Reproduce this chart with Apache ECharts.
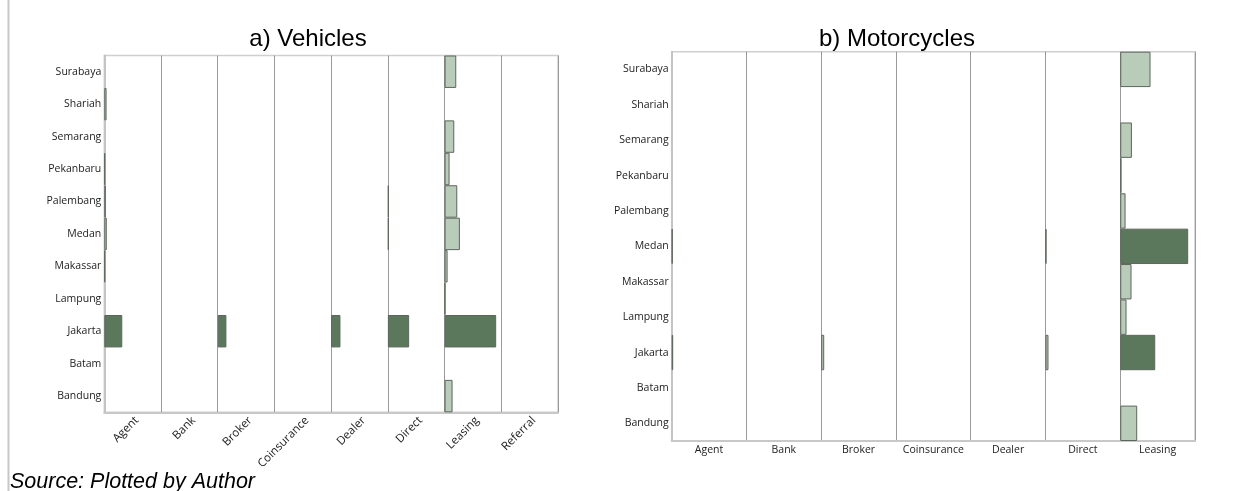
<!DOCTYPE html>
<html>
<head>
<meta charset="utf-8">
<script src="https://cdn.jsdelivr.net/npm/echarts@6/dist/echarts.min.js"></script>
<style>
  html, body { margin: 0; padding: 0; background: #ffffff; }
  #chart { width: 1256px; height: 491px; }
</style>
</head>
<body>
<div id="chart"></div>
<script>
// Cities, listed bottom-to-top on the category axis
const cities = ['Bandung', 'Batam', 'Jakarta', 'Lampung', 'Makassar', 'Medan',
                'Palembang', 'Pekanbaru', 'Semarang', 'Shariah', 'Surabaya'];

// Distribution channels
const vehicleChannels = ['Agent', 'Bank', 'Broker', 'Coinsurance', 'Dealer', 'Direct', 'Leasing', 'Referral'];
const motorcycleChannels = ['Agent', 'Bank', 'Broker', 'Coinsurance', 'Dealer', 'Direct', 'Leasing'];

// a) Vehicles: value per city (same order as cities), per channel
const vehicleAgent       = [0, 0, 31.7, 0, 1.5, 4.4, 2.6, 1.5, 0, 4.0, 0];
const vehicleBank        = [0, 0, 0, 0, 0, 0, 0, 0, 0, 0, 0];
const vehicleBroker      = [0, 0, 15.3, 0, 0, 0, 0, 0, 0, 0, 0];
const vehicleCoinsurance = [0, 0, 0, 0, 0, 0, 0, 0, 0, 0, 0];
const vehicleDealer      = [0, 0, 16.4, 0, 0, 0, 0, 0, 0, 0, 0];
const vehicleDirect      = [0, 0, 37.5, 0, 0, 1.5, 1.5, 0, 0, 0, 0];
const vehicleLeasing     = [14.1, 0, 91.0, 1.5, 5.3, 27.0, 22.4, 8.8, 17.1, 0, 20.6];
const vehicleReferral    = [0, 0, 0, 0, 0, 0, 0, 0, 0, 0, 0];

// b) Motorcycles
const motorcycleAgent       = [0, 0, 2.0, 0, 0, 1.3, 0, 0, 0, 0, 0];
const motorcycleBank        = [0, 0, 0, 0, 0, 0, 0, 0, 0, 0, 0];
const motorcycleBroker      = [0, 0, 4.0, 0, 0, 0, 0, 0, 0, 0, 0];
const motorcycleCoinsurance = [0, 0, 0, 0, 0, 0, 0, 0, 0, 0, 0];
const motorcycleDealer      = [0, 0, 0, 0, 0, 0, 0, 0, 0, 0, 0];
const motorcycleDirect      = [0, 0, 4.0, 0, 0, 1.3, 0, 0, 0, 0, 0];
const motorcycleLeasing     = [22.7, 0, 46.8, 8.4, 15.1, 90.9, 7.1, 1.7, 15.6, 0, 40.5];

// Cells that belong to the upper tier (shaded dark)
const vehicleHighTier = {
  Agent: ['Jakarta', 'Pekanbaru', 'Makassar'],
  Broker: ['Jakarta'],
  Dealer: ['Jakarta'],
  Direct: ['Jakarta', 'Medan', 'Palembang'],
  Leasing: ['Jakarta', 'Lampung']
};
const motorcycleHighTier = {
  Agent: ['Medan'],
  Direct: ['Medan'],
  Leasing: ['Jakarta', 'Medan', 'Pekanbaru']
};

const vehicleValues = {
  Agent: vehicleAgent, Bank: vehicleBank, Broker: vehicleBroker, Coinsurance: vehicleCoinsurance,
  Dealer: vehicleDealer, Direct: vehicleDirect, Leasing: vehicleLeasing, Referral: vehicleReferral
};
const motorcycleValues = {
  Agent: motorcycleAgent, Bank: motorcycleBank, Broker: motorcycleBroker, Coinsurance: motorcycleCoinsurance,
  Dealer: motorcycleDealer, Direct: motorcycleDirect, Leasing: motorcycleLeasing
};

const FONT = '"Open Sans", "Noto Sans", sans-serif';
const DARK = '#5c785c';
const LIGHT = '#b9cbb9';
const AXIS_MAX = 100;

const option = {
  backgroundColor: '#ffffff',
  animation: false,
  grid: [], xAxis: [], yAxis: [], series: [],
  graphic: []
};

// One framed panel: a background grid carrying labels and separators,
// plus one narrow grid per channel with its own value axis.
function addPanel(p) {
  const colW = p.width / p.channels.length;
  const bg = option.grid.length;
  option.grid.push({
    left: p.left, top: p.top, width: p.width, height: p.height,
    show: true, borderColor: '#cfcfcf', borderWidth: 1.5, backgroundColor: 'transparent'
  });
  option.xAxis.push({
    gridIndex: bg, type: 'category', data: p.channels, boundaryGap: true,
    axisTick: { show: false },
    axisLine: { lineStyle: { color: '#c8c8c8', width: 2 } },
    axisLabel: Object.assign({ interval: 0, rotate: p.rotate, color: '#222222',
                 fontFamily: FONT }, p.xLabel),
    splitLine: { show: true, interval: 0, lineStyle: { color: '#9a9a9a', width: 1 } }
  });
  option.yAxis.push({
    gridIndex: bg, type: 'category', data: cities,
    axisTick: { show: false },
    axisLine: { lineStyle: { color: '#c4c4c4', width: 2 } },
    axisLabel: { fontSize: 10.5, color: '#222222', fontFamily: FONT, margin: 3 },
    splitLine: { show: false }
  });

  p.channels.forEach((ch, k) => {
    const gi = option.grid.length;
    option.grid.push({ left: p.left + k * colW, top: p.top, width: colW, height: p.height });
    option.xAxis.push({ gridIndex: gi, type: 'value', min: 0, max: AXIS_MAX, show: false });
    option.yAxis.push({ gridIndex: gi, type: 'category', data: cities, show: false });
    const vals = p.values[ch];
    const high = p.highTier[ch] || [];
    option.series.push({
      type: 'bar', xAxisIndex: gi, yAxisIndex: gi,
      barWidth: '100%', silent: true,
      itemStyle: { borderColor: '#5d665d', borderWidth: 1 },
      data: vals.map((v, i) => v > 0
        ? { value: v, itemStyle: { color: high.includes(cities[i]) ? DARK : LIGHT } }
        : '-')
    });
  });

  option.graphic.push({
    type: 'text', x: p.titleX, y: 39,
    style: { text: p.title, font: '24px "Liberation Sans", Arial, sans-serif',
             fill: '#000000', textAlign: 'center', textVerticalAlign: 'middle' }
  });
}

addPanel({
  title: 'a) Vehicles', titleX: 308,
  channels: vehicleChannels, values: vehicleValues, highTier: vehicleHighTier,
  left: 104.3, top: 55.5, width: 453.7, height: 356.8,
  rotate: 45, xLabel: { fontSize: 11.5, margin: 2, verticalAlign: 'top' }
});

addPanel({
  title: 'b) Motorcycles', titleX: 897,
  channels: motorcycleChannels, values: motorcycleValues, highTier: motorcycleHighTier,
  left: 671.7, top: 51.7, width: 523.3, height: 389.3,
  rotate: 0, xLabel: { fontSize: 10.5, margin: 4 }
});

// Page rule on the left and the source note
option.graphic.push({
  type: 'line', shape: { x1: 8.5, y1: 0, x2: 8.5, y2: 491 },
  style: { stroke: '#c8c8c8', lineWidth: 2 }
});
option.graphic.push({
  type: 'text', x: 10, y: 482,
  style: { text: 'Source: Plotted by Author', font: 'italic 21.5px "Liberation Sans", Arial, sans-serif',
           fill: '#000000', textAlign: 'left', textVerticalAlign: 'middle' }
});

const chart = echarts.init(document.getElementById('chart'), null, { renderer: 'canvas' });
chart.setOption(option);
</script>
</body>
</html>
